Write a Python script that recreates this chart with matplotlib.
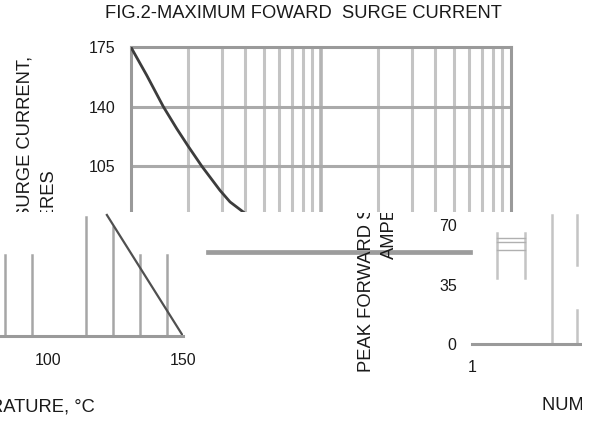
import matplotlib
matplotlib.use("Agg")
import matplotlib.pyplot as plt
from matplotlib.patches import Rectangle
from matplotlib.lines import Line2D
from matplotlib.transforms import Bbox
from matplotlib.ticker import FixedLocator, NullLocator

plt.rcParams['font.family'] = ['Liberation Sans', 'DejaVu Sans']

# ---------------- data ----------------
title = "FIG.2-MAXIMUM FOWARD  SURGE CURRENT"
cycles = [1, 1.21, 1.48, 1.74, 2.0, 2.36, 2.94, 3.32, 3.98, 4.4]
surge_amps = [175, 158.5, 140, 127.1, 116.7, 104.9, 90.7, 83.9, 77.2, 74.0]
surge_yticks = [0, 35, 70, 105, 140, 175]
surge_xtick_labels = ["1", "10", "100"]
ylabel_line1 = "PEAK FORWARD SURGE CURRENT,"
ylabel_line2 = "AMPERES"
xlabel_surge = "NUMBER OF CYCLES AT 60Hz"

derate_temp = [121.8, 150]
derate_level = [0.976, 0.0]
derate_xticks = [100, 150]
derate_grid = [84, 94, 114, 124, 134, 144]
derate_grid_top = [0.65, 0.65, 0.96, 0.88, 0.65, 0.65]
xlabel_derate = "AMBIENT TEMPERATURE, °C"

# fragments of the surge grid in the shifted copy (cycles, ymin, ymax as axes fraction)
copy_grid = [(1.354, 0.50, 0.84), (1.90, 0.50, 0.84), (2.64, 0.02, 0.98),
             (3.57, 0.02, 0.26), (3.57, 0.60, 0.98)]
copy_hlines = [62.6, 60.2, 55.5]

W, H = 589, 424
fig = plt.figure(figsize=(W / 100, H / 100), dpi=100)
fig.patch.set_facecolor("white")


def axpos(left, top, right, bottom):
    return [left / W, 1 - bottom / H, (right - left) / W, (bottom - top) / H]


FRAME = "#9a9a9a"
GRID = "#c4c4c4"
TXT = "#1a1a1a"
FS = 11.5
LFS = 13.2

minor_locs = [m * d for d in (1, 10) for m in range(2, 10)]


def style_surge(ax, ylim):
    ax.set_xscale("log")
    ax.xaxis.set_major_locator(FixedLocator([1, 10, 100]))
    ax.xaxis.set_minor_locator(NullLocator())
    ax.set_xticklabels(surge_xtick_labels)
    ax.set_yticks(surge_yticks)
    ax.set_xlim(1, 100)
    ax.set_ylim(*ylim)
    ax.tick_params(length=0, labelsize=FS, labelcolor=TXT)
    ax.tick_params(axis="y", pad=11)
    ax.tick_params(axis="x", pad=11)


# ---------------- main (top) chart ----------------
ax = fig.add_axes(axpos(131, 47.3, 511, 344.3))
ax.set_zorder(1)
style_surge(ax, (0, 175))
for x in minor_locs:
    ax.axvline(x, color=GRID, lw=2.2, zorder=1)
ax.axvline(10, color="#b4b4b4", lw=2.6, zorder=1)
for y in surge_yticks[1:-1]:
    ax.axhline(y, color="#aaaaaa", lw=2.2, zorder=1)
for s in ax.spines.values():
    s.set_color(FRAME)
    s.set_linewidth(2.2)
ax.plot(cycles, surge_amps, color="#3c3c3c", lw=2.0, zorder=3, solid_capstyle="round")
fig.text(25.5 / W, 1 - 214 / H, ylabel_line1, rotation=90, ha="center", va="center",
         fontsize=LFS, color=TXT, zorder=1)
fig.text(49 / W, 1 - 214 / H, ylabel_line2, rotation=90, ha="center", va="center",
         fontsize=LFS, color=TXT, zorder=1)
fig.text(303.5 / W, 1 - 14 / H, title, ha="center", va="center", fontsize=13.2, color=TXT)

# ---------------- mask over lower band ----------------
fig.add_artist(Rectangle((0, 0), 1, 1 - 212 / H, transform=fig.transFigure,
                         facecolor="white", edgecolor="none", zorder=2))

# ---------------- derating fragment (bottom left) ----------------
axd = fig.add_axes(axpos(0, 212, 183, 336))
axd.set_zorder(3)
axd.set_facecolor("none")
axd.set_xticks(derate_xticks)
axd.set_yticks([])
axd.set_xlim(82.2, 150)
axd.set_ylim(0, 1)
axd.tick_params(length=0, labelsize=FS, labelcolor=TXT, pad=12)
for k in ("top", "right", "left"):
    axd.spines[k].set_visible(False)
axd.spines["bottom"].set_color(FRAME)
axd.spines["bottom"].set_linewidth(2.2)
for x, t in zip(derate_grid, derate_grid_top):
    axd.axvline(x, ymin=0, ymax=t, color="#a6a6a6", lw=1.8)
axd.plot(derate_temp, derate_level, color="#505050", lw=1.6)
fig.text(95 / W, 1 - 407 / H, xlabel_derate, ha="right", va="center", fontsize=LFS,
         color=TXT, zorder=4)

# ---------------- shifted copy of surge chart (bottom right) ----------------
axc = fig.add_axes(axpos(472, 212, 852, 344.3))
axc.set_zorder(3)
axc.set_facecolor("none")
style_surge(axc, (0, 175 * (344.3 - 212) / 297.3))
for k in ("top", "right", "left"):
    axc.spines[k].set_visible(False)
axc.spines["bottom"].set_color(FRAME)
axc.spines["bottom"].set_linewidth(2.2)
axc.spines["bottom"].set_bounds(1, 4)
for x, y0, y1 in copy_grid:
    axc.axvline(x, ymin=y0, ymax=y1, color=GRID, lw=1.8)
for y in copy_hlines:
    axc.plot([1.354, 1.90], [y, y], color="#b0b0b0", lw=1.0)
clip = Bbox.from_extents(0, 0, W, H - 213)
for xp, txt in ((366, ylabel_line1), (389, ylabel_line2)):
    t = fig.text(xp / W, 1 - 214 / H, txt, rotation=90, ha="center", va="center",
                 fontsize=LFS, color=TXT, zorder=4)
    t.set_clip_on(True)
    t.set_clip_box(clip)
fig.text(542 / W, 1 - 405 / H, xlabel_surge, ha="left", va="center", fontsize=LFS,
         color=TXT, zorder=4)

# right-hand cut of the lower band
fig.add_artist(Rectangle((582 / W, 0), 1 - 582 / W, 1 - 212 / H, transform=fig.transFigure,
                         facecolor="white", edgecolor="none", zorder=4.5))

# ---------------- stray horizontal bar ----------------
fig.add_artist(Line2D([208 / W, 470 / W], [1 - 252 / H, 1 - 252 / H],
                      transform=fig.transFigure, color="#9c9c9c", lw=3.4, zorder=3.5))

fig.savefig("out.png", dpi=100, facecolor="white")
